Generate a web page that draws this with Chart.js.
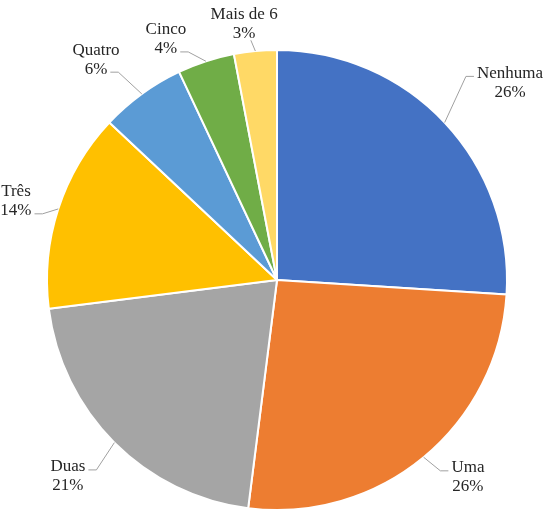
<!DOCTYPE html>
<html>
<head>
<meta charset="utf-8">
<script src="https://cdn.jsdelivr.net/npm/chart.js@4.4.1/dist/chart.umd.min.js"></script>
<style>
  html, body { margin: 0; padding: 0; background: #fff; }
  canvas { display: block; }
  .fontwarm { font: 17px "Liberation Serif"; position: absolute; left: -999px; top: 0; }
</style>
</head>
<body>
<div class="fontwarm">Nenhuma Três 26%</div>
<canvas id="pieChart" width="548" height="512"></canvas>
<script>
// Chart data
const categories = ['Nenhuma', 'Uma', 'Duas', 'Três', 'Quatro', 'Cinco', 'Mais de 6'];
const shares = [26, 26, 21, 14, 6, 4, 3];
const percentLabels = ['26%', '26%', '21%', '14%', '6%', '4%', '3%'];

// Slice colours (Office palette)
const sliceColors = ['#4472C4', '#ED7D31', '#A5A5A5', '#FFC000', '#5B9BD5', '#70AD47', '#FFD966'];

// Where each label block sits, in radius units from the pie centre
const labelPlace = [
  [1.013, -0.857], [0.830, 0.858], [-0.909, 0.854], [-1.135, -0.342],
  [-0.787, -0.958], [-0.483, -1.046], [-0.143, -1.114]
];
// Which text row the leader line starts from (-1 = from under the text)
const leaderRow = [0, 0, 0, 1, 1, 1, -1];

const labelFont = '17px "Liberation Serif", "Times New Roman", serif';

// Draws the outside labels and their leader lines
const outsideLabels = {
  id: 'outsideLabels',
  afterDatasetsDraw(chart) {
    const ctx = chart.ctx;
    const arcs = chart.getDatasetMeta(0).data;
    const lineH = 19;
    ctx.save();
    ctx.font = labelFont;
    arcs.forEach((arc, i) => {
      const r = arc.outerRadius;
      const mid = (arc.startAngle + arc.endAngle) / 2;
      const ex = arc.x + Math.cos(mid) * r;
      const ey = arc.y + Math.sin(mid) * r;
      const lx = arc.x + labelPlace[i][0] * r;
      const ly = arc.y + labelPlace[i][1] * r;
      const lines = [categories[i], percentLabels[i]];

      // leader line
      ctx.strokeStyle = '#a0a0a0';
      ctx.lineWidth = 1;
      ctx.beginPath();
      if (leaderRow[i] < 0) {
        ctx.moveTo(lx + (ex - lx) * 0.6, ly + lineH / 2 + 7);
        ctx.lineTo(ex, ey);
      } else {
        const w = ctx.measureText(lines[leaderRow[i]]).width;
        const rowY = ly + (leaderRow[i] - 0.5) * lineH + 3;
        const side = ex > lx ? 1 : -1;
        const sx = lx + side * (w / 2 + 3);
        ctx.moveTo(sx, rowY);
        ctx.lineTo(sx + side * 8, rowY);
        ctx.lineTo(ex, ey);
      }
      ctx.stroke();

      // label text
      ctx.fillStyle = '#262626';
      ctx.textAlign = 'center';
      ctx.textBaseline = 'middle';
      ctx.fillText(lines[0], lx, ly - lineH / 2);
      ctx.fillText(lines[1], lx, ly + lineH / 2);
    });
    ctx.restore();
  }
};

function drawChart() {
  new Chart(document.getElementById('pieChart'), {
    type: 'pie',
    data: {
      labels: categories,
      datasets: [{
        data: shares,
        backgroundColor: sliceColors,
        borderColor: '#ffffff',
        borderWidth: 2
      }]
    },
    options: {
      responsive: false,
      animation: false,
      layout: {
        padding: { top: 49, bottom: 1, left: 46, right: 40 }
      },
      plugins: {
        legend: { display: false },
        tooltip: { enabled: false }
      }
    },
    plugins: [outsideLabels]
  });
}

document.fonts.load(labelFont).then(drawChart, drawChart);
</script>
</body>
</html>
